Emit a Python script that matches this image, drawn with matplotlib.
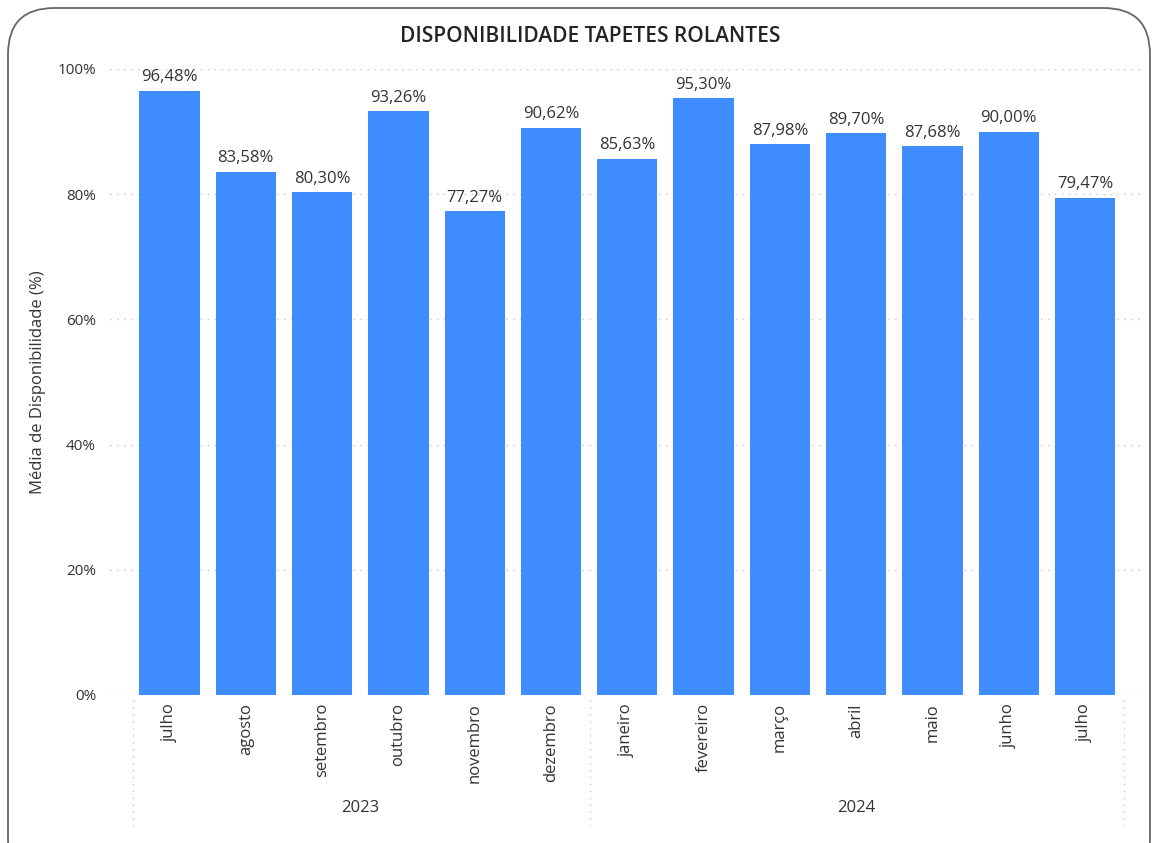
import matplotlib.pyplot as plt
import matplotlib.transforms as mtransforms
from matplotlib.patches import FancyBboxPatch
import numpy as np

months = ['julho', 'agosto', 'setembro', 'outubro', 'novembro', 'dezembro',
          'janeiro', 'fevereiro', 'março', 'abril', 'maio', 'junho', 'julho']
values = [96.48, 83.58, 80.30, 93.26, 77.27, 90.62,
          85.63, 95.30, 87.98, 89.70, 87.68, 90.00, 79.47]
years = ['2023', '2024']
year_counts = [6, 7]
yticks = [0, 20, 40, 60, 80, 100]

plt.rcParams['font.family'] = ['Open Sans', 'DejaVu Sans']
text_col = '#333333'

fig = plt.figure(figsize=(11.6, 8.43), dpi=100)
fig.patches.append(FancyBboxPatch((8 / 1160, -0.05), 1142 / 1160, 1.05 - 8 / 843,
                                  boxstyle='round,pad=0,rounding_size=0.04',
                                  transform=fig.transFigure, facecolor='white',
                                  edgecolor='#666666', linewidth=1.3, zorder=-1,
                                  mutation_aspect=1160 / 843))

ax = fig.add_axes([110 / 1160, 1 - 695 / 843, 1030 / 1160, (695 - 69) / 843])
ax.patch.set_alpha(0)
x = np.arange(len(values))
bars = ax.bar(x, values, width=0.79, color='#3F8CFF', zorder=3)

ax.set_xlim(-0.78, 12.72)
ax.set_ylim(0, 100)
for s in ax.spines.values():
    s.set_visible(False)
ax.set_yticks(yticks)
ax.set_yticklabels([f'{v}%' for v in yticks], color=text_col, fontsize=11)
ax.tick_params(axis='y', length=0, pad=10)
ax.set_xticks([])
for v in yticks:
    ax.axhline(v, color='#c8c8c8', linestyle=(0, (1, 4)), linewidth=1, zorder=1)

for xi, v in zip(x, values):
    ax.annotate(f'{v:.2f}%'.replace('.', ','), (xi, v), xytext=(0, 4),
                textcoords='offset points', ha='center', va='bottom',
                fontsize=12, color=text_col, zorder=4)

ax.set_ylabel('Média de Disponibilidade (%)', fontsize=12, color=text_col, labelpad=8)

trans = mtransforms.blended_transform_factory(ax.transData, fig.transFigure)
for xi, m in zip(x, months):
    ax.text(xi, 1 - 703 / 843, m, rotation=90, ha='center', va='top',
            fontsize=12, color=text_col, transform=trans)

start = 0
bounds = [-0.485]
for yr, n in zip(years, year_counts):
    ax.text(start + (n - 1) / 2, 1 - 808 / 843, yr, ha='center', va='center',
            fontsize=12, color=text_col, transform=trans)
    start += n
    bounds.append(start - 0.49)
for b in bounds:
    ax.plot([b, b], [1 - 700 / 843, 1 - 826 / 843], transform=trans, clip_on=False,
            color='#c8c8c8', linestyle=(0, (1, 4)), linewidth=1)

fig.text(590 / 1160, 1 - 36 / 843, 'DISPONIBILIDADE TAPETES ROLANTES', ha='center',
         va='center', fontsize=15, fontweight='semibold', color='#252423')

fig.savefig('out.png', dpi=100)
